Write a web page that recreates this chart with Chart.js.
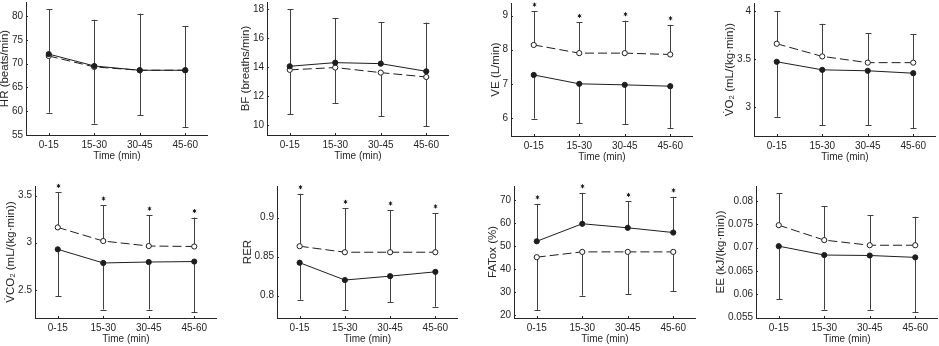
<!DOCTYPE html>
<html>
<head>
<meta charset="utf-8">
<script src="https://cdn.jsdelivr.net/npm/chart.js@4"></script>
<style>
body{margin:0;background:#fff;width:939px;height:346px;position:relative;overflow:hidden}
canvas{position:absolute}
</style>
</head>
<body>
<script>
// time periods on every x axis
const periods = ['0-15', '15-30', '30-45', '45-60'];

// A = filled markers / solid line, B = open markers / dashed line
// each series has a one-sided error bar bound (upper or lower)
const hrA = [72.0, 69.5, 68.6, 68.6];
const hrAErr = [81.4, 79.2, 80.5, 77.8];
const hrB = [71.6, 69.3, 68.6, 68.6];
const hrBErr = [59.7, 57.4, 59.1, 56.7];
const hrTicks = [55, 60, 65, 70, 75, 80];

const bfA = [14.07, 14.32, 14.25, 13.72];
const bfAErr = [18.0, 17.4, 17.12, 17.08];
const bfB = [13.82, 13.98, 13.63, 13.33];
const bfBErr = [10.76, 11.54, 10.62, 9.95];
const bfTicks = [10, 12, 14, 16, 18];

const veA = [7.26, 7.0, 6.97, 6.93];
const veAErr = [5.98, 5.85, 5.82, 5.71];
const veB = [8.14, 7.9, 7.9, 7.86];
const veBErr = [9.13, 8.8, 8.85, 8.73];
const veStars = [1, 1, 1, 1];
const veTicks = [6, 7, 8, 9];

const vo2A = [3.474, 3.39, 3.38, 3.355];
const vo2AErr = [2.90, 2.815, 2.815, 2.78];
const vo2B = [3.662, 3.53, 3.465, 3.465];
const vo2BErr = [4.0, 3.87, 3.774, 3.763];
const vo2Ticks = [3, 3.5, 4];

const vco2A = [2.93, 2.785, 2.795, 2.80];
const vco2AErr = [2.43, 2.29, 2.29, 2.26];
const vco2B = [3.163, 3.018, 2.965, 2.96];
const vco2BErr = [3.535, 3.40, 3.293, 3.268];
const vco2Stars = [1, 1, 1, 1];
const vco2Ticks = [2.5, 3, 3.5];

const rerA = [0.8423, 0.8201, 0.8251, 0.8306];
const rerAErr = [0.7949, 0.7817, 0.7919, 0.786];
const rerB = [0.8634, 0.8557, 0.8557, 0.8557];
const rerBErr = [0.9306, 0.9119, 0.9098, 0.906];
const rerStars = [1, 1, 1, 1];
const rerTicks = [0.8, 0.85, 0.9];

const fatA = [52.0, 59.6, 57.85, 55.8];
const fatAErr = [68.26, 73.05, 69.3, 71.3];
const fatStars = [1, 1, 1, 1];
const fatB = [45.1, 47.4, 47.4, 47.4];
const fatBErr = [22.2, 28.4, 29.1, 30.3];
const fatTicks = [20, 30, 40, 50, 60, 70];

const eeA = [0.0703, 0.0684, 0.0683, 0.0679];
const eeAErr = [0.0589, 0.0567, 0.0567, 0.0561];
const eeB = [0.0748, 0.0716, 0.0705, 0.0705];
const eeBErr = [0.0817, 0.0789, 0.0769, 0.0766];
const eeTicks = [0.055, 0.06, 0.065, 0.07, 0.075, 0.08];

const none = [0, 0, 0, 0];

const ink = '#1e1e1e';
const axisCol = '#262626';
const barCol = '#404040';
const fontFamily = '"Liberation Sans", Arial, Helvetica, sans-serif';
const tickSize = 10;
const ytitleSize = 11.5;

Chart.defaults.font.family = fontFamily;
Chart.defaults.font.size = tickSize;
Chart.defaults.color = axisCol;

// used to find the widest y tick label, so the y title sits right next to it
const measureCtx = document.createElement('canvas').getContext('2d');
measureCtx.font = tickSize + 'px ' + fontFamily;

// error bars, significance stars and small inward tick marks
const errorBars = {
    id: 'errorBars',
    beforeDatasetsDraw(chart) {
        const ctx = chart.ctx;
        const x = chart.scales.x, y = chart.scales.y;
        const area = chart.chartArea;
        ctx.save();
        ctx.strokeStyle = barCol;
        ctx.lineWidth = 1;
        chart.data.datasets.forEach((ds, i) => {
            const meta = chart.getDatasetMeta(i);
            meta.data.forEach((pt, j) => {
                const px = Math.round(pt.x) + 0.5;
                const by = y.getPixelForValue(ds.errBar[j]);
                ctx.beginPath();
                ctx.moveTo(px, pt.y);
                ctx.lineTo(px, by);
                ctx.moveTo(px - 3, Math.round(by) + 0.5);
                ctx.lineTo(px + 3, Math.round(by) + 0.5);
                ctx.stroke();
                if (ds.stars[j]) {
                    const sy = by - 6.5, r = 2;
                    ctx.beginPath();
                    for (let k = 0; k < 3; k++) {
                        const a = Math.PI / 2 + k * Math.PI / 3;
                        ctx.moveTo(px + r * Math.cos(a), sy + r * Math.sin(a));
                        ctx.lineTo(px - r * Math.cos(a), sy - r * Math.sin(a));
                    }
                    ctx.strokeStyle = ink;
                    ctx.stroke();
                    ctx.strokeStyle = barCol;
                }
            });
        });
        ctx.strokeStyle = axisCol;
        ctx.beginPath();
        y.ticks.forEach(t => {
            const py = Math.round(y.getPixelForValue(t.value)) + 0.5;
            ctx.moveTo(area.left, py);
            ctx.lineTo(area.left + 2, py);
        });
        periods.forEach((p, j) => {
            const px = Math.round(x.getPixelForValue(j)) + 0.5;
            ctx.moveTo(px, area.bottom);
            ctx.lineTo(px, area.bottom - 2);
        });
        ctx.stroke();
        ctx.restore();
    }
};

const panels = [
    {title: 'HR (beats/min)', a: hrA, aErr: hrAErr, aStar: none, b: hrB, bErr: hrBErr, bStar: none, ticks: hrTicks, min: 55, max: 82.94},
    {title: 'BF (breaths/min)', a: bfA, aErr: bfAErr, aStar: none, b: bfB, bErr: bfBErr, bStar: none, ticks: bfTicks, min: 9.33, max: 18.5},
    {title: 'VE (L/min)', a: veA, aErr: veAErr, aStar: none, b: veB, bErr: veBErr, bStar: veStars, ticks: veTicks, min: 5.47, max: 9.37},
    {title: 'V\u0307O\u2082 (mL/(kg\u00b7min))', a: vo2A, aErr: vo2AErr, aStar: none, b: vo2B, bErr: vo2BErr, bStar: none, ticks: vo2Ticks, min: 2.7, max: 4.087},
    {title: 'V\u0307CO\u2082 (mL/(kg\u00b7min))', a: vco2A, aErr: vco2AErr, aStar: none, b: vco2B, bErr: vco2BErr, bStar: vco2Stars, ticks: vco2Ticks, min: 2.2, max: 3.603},
    {title: 'RER', a: rerA, aErr: rerAErr, aStar: none, b: rerB, bErr: rerBErr, bStar: rerStars, ticks: rerTicks, min: 0.7715, max: 0.9405},
    {title: 'FATox (%)', a: fatA, aErr: fatAErr, aStar: fatStars, b: fatB, bErr: fatBErr, bStar: none, ticks: fatTicks, min: 18.7, max: 76.0},
    {title: 'EE (kJ/(kg\u00b7min))', a: eeA, aErr: eeAErr, aStar: none, b: eeB, bErr: eeBErr, bStar: none, ticks: eeTicks, min: 0.0549, max: 0.0832}
];

// where each plot area sits on the page
const boxes = [
    {x0: 26, x1: 208, top: 2, bot: 135},
    {x0: 267, x1: 449, top: 2, bot: 135},
    {x0: 511, x1: 693, top: 3, bot: 136},
    {x0: 754, x1: 936, top: 3, bot: 136},
    {x0: 35, x1: 217, top: 186, bot: 318},
    {x0: 277, x1: 458, top: 186, bot: 318},
    {x0: 514, x1: 696, top: 186, bot: 318},
    {x0: 756, x1: 938, top: 186, bot: 318}
];

panels.forEach((p, i) => {
    const box = boxes[i];
    const extraTop = 12;
    const tickPad = 3;
    const widest = Math.max(...p.ticks.map(v => measureCtx.measureText(String(v)).width));
    const halfTitle = ytitleSize * 1.2 / 2;
    const left = Math.round(box.x0 - tickPad - widest - 7 - halfTitle);
    const yw = box.x0 - left;
    const xh = 27;
    const cw = box.x1 - left;
    const ch = box.bot - box.top + xh + extraTop;
    const cv = document.createElement('canvas');
    cv.width = cw;
    cv.height = ch;
    cv.style.left = left + 'px';
    cv.style.top = (box.top - extraTop) + 'px';
    cv.style.width = cw + 'px';
    cv.style.height = ch + 'px';
    document.body.appendChild(cv);

    new Chart(cv, {
        type: 'line',
        data: {
            labels: periods,
            datasets: [{
                data: p.a,
                errBar: p.aErr,
                stars: p.aStar,
                borderColor: ink,
                borderWidth: 1,
                pointRadius: 2.6,
                pointBorderWidth: 1,
                pointBorderColor: ink,
                pointBackgroundColor: ink,
                fill: false
            }, {
                data: p.b,
                errBar: p.bErr,
                stars: p.bStar,
                borderColor: ink,
                borderWidth: 1,
                borderDash: [9, 4],
                pointRadius: 2.6,
                pointBorderWidth: 1,
                pointBorderColor: ink,
                pointBackgroundColor: '#ffffff',
                fill: false
            }]
        },
        options: {
            responsive: false,
            animation: false,
            devicePixelRatio: 1,
            layout: {autoPadding: false, padding: {top: extraTop, left: 0, right: 0, bottom: 0}},
            plugins: {legend: {display: false}, tooltip: {enabled: false}},
            scales: {
                x: {
                    type: 'category',
                    offset: true,
                    grid: {display: false, drawTicks: false},
                    border: {display: true, color: axisCol, width: 1},
                    ticks: {padding: 4, maxRotation: 0, autoSkip: false, color: axisCol},
                    title: {display: true, text: 'Time (min)', padding: 0, color: axisCol},
                    afterFit: s => { s.height = xh; s.paddingLeft = 0; s.paddingRight = 0; }
                },
                y: {
                    min: p.min,
                    max: p.max,
                    grid: {display: false, drawTicks: false},
                    border: {display: true, color: axisCol, width: 1},
                    ticks: {padding: tickPad, color: axisCol, callback: v => String(v)},
                    afterBuildTicks: s => { s.ticks = p.ticks.map(v => ({value: v})); },
                    title: {display: true, text: p.title, padding: 0, color: axisCol, font: {size: ytitleSize}},
                    afterFit: s => { s.width = yw; s.paddingTop = 0; s.paddingBottom = 0; }
                }
            }
        },
        plugins: [errorBars]
    });
});
</script>
</body>
</html>
